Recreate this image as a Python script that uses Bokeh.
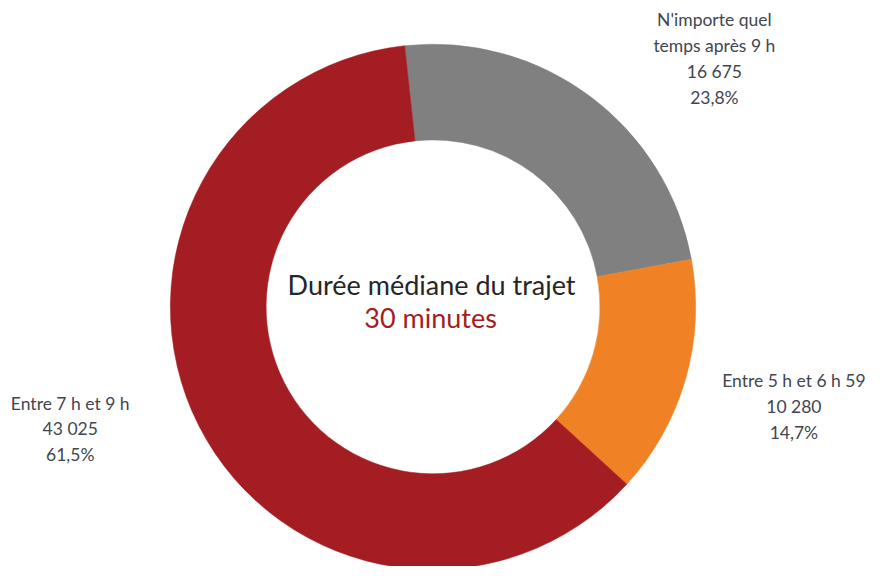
import math
from bokeh.plotting import figure
from bokeh.models import Range1d, ColumnDataSource
from bokeh.core.properties import value
from bokeh.embed import file_html
from bokeh.resources import INLINE

# ---- data ----
categories = ["N'importe quel temps après 9 h", "Entre 5 h et 6 h 59", "Entre 7 h et 9 h"]
label_lines = [["N'importe quel", "temps après 9 h"], ["Entre 5 h et 6 h 59"], ["Entre 7 h et 9 h"]]
counts = [16675, 10280, 43025]
count_labels = ["16 675", "10 280", "43 025"]
pct_labels = ["23,8%", "14,7%", "61,5%"]
colors = ["#808080", "#F08124", "#A31D22"]
center_title = "Durée médiane du trajet"
center_value = "30 minutes"

W, H = 869, 566
RW, RH = 885, 582  # reference coordinate space
p = figure(width=W, height=H, output_backend="svg", toolbar_location=None,
           x_range=Range1d(0, RW), y_range=Range1d(0, RH), min_border=0)
p.axis.visible = False
p.grid.visible = False
p.outline_line_color = None
p.background_fill_color = "white"
p.border_fill_color = "white"

def px(x):
    return x

def py(y):
    return RH - y

cx, cy = px(440.5), py(315)
r_out, r_in = 267.5, 170
start_offset = -6.2  # degrees clockwise from 12 o'clock

total = sum(counts)
starts, ends = [], []
acc = start_offset
for c in counts:
    span = 360.0 * c / total
    t1, t2 = acc, acc + span
    starts.append(math.radians(90 - t2))
    ends.append(math.radians(90 - t1))
    acc = t2

src = ColumnDataSource(dict(x=[cx] * 3, y=[cy] * 3, s=starts, e=ends, c=colors))
p.annular_wedge(x="x", y="y", inner_radius=r_in, outer_radius=r_out,
                start_angle="s", end_angle="e", fill_color="c", line_color="c",
                line_width=0.5, source=src)

font = value("Lato")
label_color = "#3F4650"
fs = "17.5px"

# label anchors (center x, first line y) in reference pixels
anchors = [(727, 20), (808, 391), (71, 414)]
step = 26.5
for i in range(3):
    lines = label_lines[i] + [count_labels[i], pct_labels[i]]
    ax, ay = anchors[i]
    xs = [px(ax)] * len(lines)
    ys = [py(ay + k * step) for k in range(len(lines))]
    p.text(x=xs, y=ys, text=lines, text_font=font, text_font_size=fs,
           text_color=label_color, text_align="center", text_baseline="middle")

p.text(x=[px(439)], y=[py(292)], text=[center_title], text_font=font,
       text_font_size="27px", text_color="#262626", text_align="center", text_baseline="middle")
p.text(x=[px(438)], y=[py(326)], text=[center_value], text_font=font,
       text_font_size="27px", text_color="#A31D22", text_align="center", text_baseline="middle")

open("out.html", "w").write(file_html(p, INLINE))
